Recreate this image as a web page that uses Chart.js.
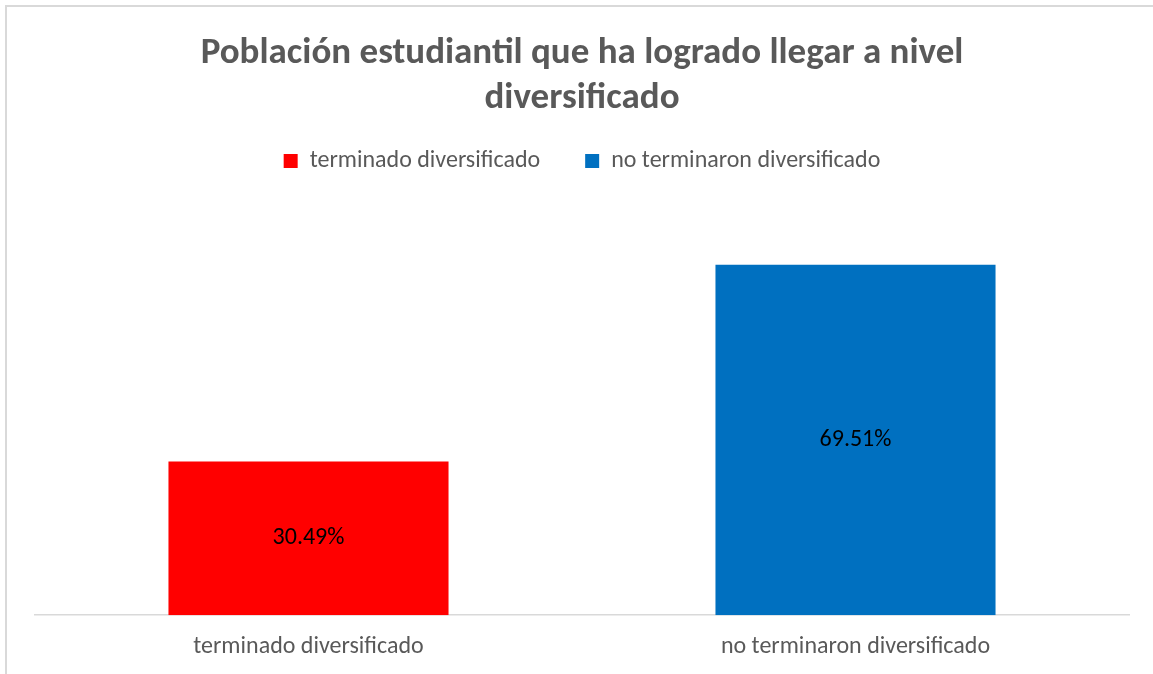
<!DOCTYPE html>
<html lang="es">
<head>
<meta charset="utf-8">
<title>Población estudiantil</title>
<script src="https://cdn.jsdelivr.net/npm/chart.js"></script>
<style>
  html, body { margin: 0; padding: 0; background: #fff; overflow: hidden; }
  #frame { position: absolute; left: 5px; top: 5px; width: 1200px; height: 720px; border: 2px solid #d9d9d9; box-sizing: border-box; }
  #chart { position: absolute; left: 0; top: 0; }
</style>
</head>
<body>
<div id="frame"></div>
<canvas id="chart" width="1153" height="674"></canvas>
<script>
const categories = ['terminado diversificado', 'no terminaron diversificado'];
const seriesNames = ['terminado diversificado', 'no terminaron diversificado'];
const terminadoValues = [30.49, null];
const noTerminaronValues = [null, 69.51];
const titleLines = ['Población estudiantil que ha logrado llegar a nivel', 'diversificado'];
const yMax = 80;

const fontFamily = "Carlito, Calibri, Lato, 'Open Sans', sans-serif";
const textGrey = '#595959';

// etiquetas de valor en el centro de cada barra
const barLabels = {
    id: 'barLabels',
    afterDatasetsDraw(chart) {
        const ctx = chart.ctx;
        ctx.save();
        ctx.font = `24px ${fontFamily}`;
        ctx.fillStyle = '#000';
        ctx.textAlign = 'center';
        ctx.textBaseline = 'middle';
        chart.data.datasets.forEach((ds, i) => {
            chart.getDatasetMeta(i).data.forEach((bar, j) => {
                const v = ds.data[j];
                if (v == null) return;
                ctx.fillText(v.toFixed(2) + '%', bar.x, (bar.y + bar.base) / 2);
            });
        });
        ctx.restore();
    }
};

// más espacio bajo la leyenda, como en el original
const legendGap = {
    id: 'legendGap',
    beforeInit(chart) {
        const fit = chart.legend.fit;
        chart.legend.fit = function () {
            fit.bind(chart.legend)();
            this.height += 29;
        };
    }
};

const ctx = document.getElementById('chart').getContext('2d');
new Chart(ctx, {
    type: 'bar',
    data: {
        labels: categories,
        datasets: [
            {
                label: seriesNames[0],
                data: terminadoValues,
                backgroundColor: '#ff0000',
                borderWidth: 0,
                categoryPercentage: 0.512,
                barPercentage: 1
            },
            {
                label: seriesNames[1],
                data: noTerminaronValues,
                backgroundColor: '#0070c0',
                borderWidth: 0,
                categoryPercentage: 0.512,
                barPercentage: 1
            }
        ]
    },
    options: {
        responsive: false,
        devicePixelRatio: 1,
        animation: false,
        layout: { padding: { left: 35, right: 24, top: 0, bottom: 4 } },
        plugins: {
            title: {
                display: true,
                text: titleLines,
                color: textGrey,
                font: { family: fontFamily, size: 37, weight: 'bold', lineHeight: 1.2162 },
                padding: { top: 31.5, bottom: -17.5 }
            },
            legend: {
                position: 'top',
                labels: {
                    color: textGrey,
                    font: { family: fontFamily, size: 24 },
                    boxWidth: 14,
                    boxHeight: 14,
                    padding: 45
                }
            },
            tooltip: { enabled: false }
        },
        scales: {
            x: {
                stacked: true,
                grid: { display: false },
                border: { display: true, color: '#d9d9d9', width: 1.5 },
                ticks: { color: textGrey, font: { family: fontFamily, size: 24 }, padding: 9 }
            },
            y: {
                stacked: true,
                display: false,
                min: 0,
                max: yMax
            }
        }
    },
    plugins: [barLabels, legendGap]
});
</script>
</body>
</html>
